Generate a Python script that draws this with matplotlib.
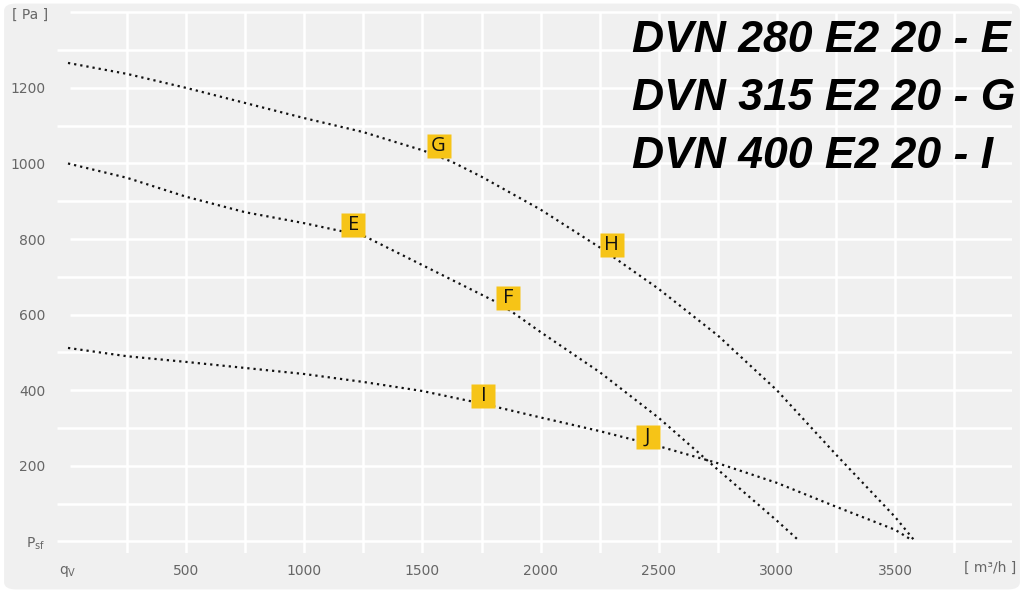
import numpy as np
import matplotlib
matplotlib.use("Agg")
import matplotlib.pyplot as plt
from matplotlib.patches import FancyBboxPatch

# fan curves: air flow [m3/h] and static pressure [Pa]
q_280 = [0, 250, 500, 750, 1000, 1150, 1260, 1500, 1750, 1820, 1880, 2000, 2250, 2500, 2750, 3000, 3090]
p_280 = [1000, 962, 912, 871, 842, 822, 806, 731, 653, 631, 607, 554, 448, 327, 190, 55, 4]

q_315 = [0, 250, 500, 750, 1000, 1250, 1400, 1500, 1623, 1750, 2000, 2250, 2500, 2750, 3000, 3250, 3500, 3580]
p_315 = [1266, 1237, 1200, 1160, 1120, 1083, 1054, 1035, 1005, 965, 878, 778, 668, 545, 400, 230, 65, 4]

q_400 = [0, 250, 500, 750, 1000, 1250, 1500, 1750, 2000, 2250, 2500, 2750, 3000, 3250, 3500, 3570]
p_400 = [512, 490, 475, 459, 443, 422, 398, 365, 328, 292, 252, 207, 155, 92, 31, 4]

# point letters on the curves
point_names = ["E", "F", "G", "H", "I", "J"]
point_q = [1208, 1864, 1568, 2301, 1758, 2453]
point_p = [837, 644, 1046, 784, 385, 276]

models = ["DVN 280 E2 20 - E", "DVN 315 E2 20 - G", "DVN 400 E2 20 - I"]

x_ticks = [0, 500, 1000, 1500, 2000, 2500, 3000, 3500]
x_labels = [r"q$_{\mathrm{V}}$", "500", "1000", "1500", "2000", "2500", "3000", "3500"]
y_ticks = [0, 200, 400, 600, 800, 1000, 1200]
y_labels = [r"P$_{\mathrm{sf}}$", "200", "400", "600", "800", "1000", "1200"]

W, H = 1024, 593
fig = plt.figure(figsize=(W / 100, H / 100), dpi=100)
fig.patch.set_facecolor("white")
panel = FancyBboxPatch((0.004, 0.006), 0.992, 0.988,
                       boxstyle="round,pad=0,rounding_size=0.012",
                       transform=fig.transFigure, fc="#f0f0f0", ec="none", zorder=-10)
fig.patches.append(panel)

ax = fig.add_axes([56.9 / W, (H - 552.8) / H, (1012 - 56.9) / W, (552.8 - 10.4) / H])
ax.set_zorder(1)
ax.set_facecolor("none")
ax.set_xlim(-47, 3995)
ax.set_ylim(-30, 1405)
for s in ax.spines.values():
    s.set_visible(False)

# grid
grid_kw = dict(color="white", lw=1.8, zorder=1)
for v in np.arange(250, 3751, 250):
    ax.vlines(v, -30, 1400, **grid_kw)
for h in np.arange(0, 1401, 100):
    x0 = 8 if (h % 200 == 0 and h > 0) else -47
    ax.hlines(h, x0, 3995, **grid_kw)

dots = dict(color="#111111", lw=1.6, ls=(0, (1, 1.8)), dash_capstyle="butt", zorder=3)
ax.plot(q_280, p_280, **dots)
ax.plot(q_315, p_315, **dots)
ax.plot(q_400, p_400, **dots)

ax.plot(point_q, point_p, ls="none", marker="s", ms=17.5, mfc="#f6c417", mec="none", zorder=4)
for name, q, p in zip(point_names, point_q, point_p):
    ax.text(q, p, name, ha="center", va="center", fontsize=14.5, color="#111111",
            family="Open Sans", zorder=5)

ax.set_xticks(x_ticks)
ax.set_xticklabels(x_labels)
ax.set_yticks(y_ticks)
ax.set_yticklabels(y_labels)
ax.tick_params(length=0, colors="#666666", labelsize=10)
ax.tick_params(axis="x", pad=8)
ax.tick_params(axis="y", pad=8.5)

fig.text(12 / W, 1 - 15 / H, "[ Pa ]", ha="left", va="center", fontsize=10, color="#666666")
fig.text(990 / W, 1 - 568 / H, "[ m³/h ]", ha="center", va="center", fontsize=10, color="#666666")

for i, m in enumerate(models):
    fig.text(632 / W, 1 - (40 + 58 * i) / H, m, ha="left", va="center", fontsize=32,
             fontweight="bold", fontstyle="italic", family="Liberation Sans", color="black",
             zorder=10)

fig.savefig("out.png", dpi=100, facecolor="white")
